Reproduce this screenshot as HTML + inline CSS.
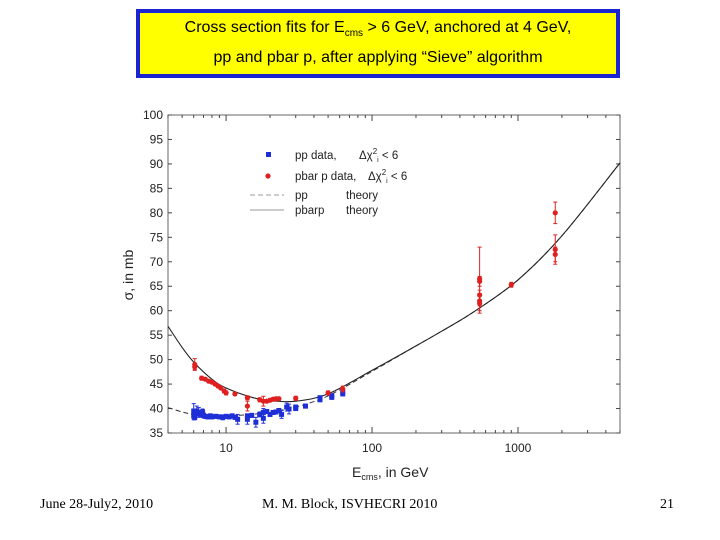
<!DOCTYPE html>
<html><head><meta charset="utf-8"><style>
body{margin:0;width:720px;height:540px;background:#fff;overflow:hidden;position:relative;font-family:"Liberation Sans",sans-serif}
#title{position:absolute;left:136px;top:9px;width:476px;height:61px;border:4px solid #1a24d0;background:#ffff00;text-align:center;font-size:16px;color:#000}
.foot{position:absolute;top:497px;font-family:"Liberation Serif",serif;font-size:14px;color:#000}
</style></head><body>
<div id="title">
<div style="margin-top:6px">Cross section fits for E<sub style="font-size:10px">cms</sub> &gt; 6 GeV, anchored at 4 GeV,</div>
<div style="margin-top:10px">pp and pbar p, after applying “Sieve” algorithm</div>
</div>
<svg id="chart" width="720" height="540" style="position:absolute;left:0;top:0"></svg>
<div class="foot" style="left:40px">June 28-July2, 2010</div>
<div class="foot" style="left:262px">M. M. Block, ISVHECRI 2010</div>
<div class="foot" style="left:660px">21</div>
<script>
const yTicks=[35,40,45,50,55,60,65,70,75,80,85,90,95,100];
const xTickLabels=[10,100,1000];
const theoryE=[4,5,6,8,10,15,20,30,50,100,200,300,500,1000,2000,5000];
const pbarTheory=[56.8,52.5,49.5,46,44.2,42.3,41.6,41.5,43,47.8,52.8,55.8,59.8,66.3,75.3,90.2];
const ppTheory=[40.2,39.3,38.8,38.5,38.5,38.8,39.3,40.3,42.6,47.6,52.8,55.8,59.8,66.3,75.3,90.2];
const pbarE=[6.1,6.1,6.8,7.2,7.6,8,8.4,8.8,9.2,9.7,10,11.5,14,14,17,18,19,20,21,22,23,30,50,63,546,546,546,546,546,900,1800,1800,1800];
const pbarS=[49,48.5,46.2,46,45.6,45.4,45,44.6,44.2,43.6,43.2,43,42.2,40.5,41.8,41.5,41.5,41.7,41.9,42,42,42.1,43.2,44,66.5,66,63.2,62,61.5,65.3,71.5,72.5,80];
const pbarErr=[1.2,0.5,0.4,0.3,0.3,0.3,0.3,0.3,0.3,0.4,0.4,0.3,0.4,1,0.4,1,0.3,0.3,0.3,0.3,0.3,0.4,0.4,0.6,6.5,1,1,1,2,0.5,1.5,3,2.2];
const ppE=[6,6,6.1,6.2,6.3,6.5,6.7,6.9,7,7.2,7.5,7.8,8,8.5,9,9.5,10,10.5,11,11.5,12,14,14,15,16,17,18,18,19,20,21,22,23,24,26,27,30,30,35,44,44,53,53,63,63];
const ppS=[39.5,38.5,38.2,39,39.5,39.2,38.8,39.3,38.6,38.4,38.3,38.5,38.3,38.4,38.3,38.2,38.4,38.3,38.5,38.2,37.8,37.8,38.5,38.6,37.2,38.8,38,39.2,39.4,38.8,39.2,39.3,39.6,38.8,40.3,39.9,40,40.3,40.5,42.2,41.8,42.3,42.6,43,43.5];
const ppErr=[1.5,0.8,0.5,0.8,1,1,0.5,0.6,0.5,0.4,0.4,0.4,0.4,0.4,0.4,0.5,0.4,0.4,0.4,0.4,1,1,0.4,0.4,1,0.5,1,0.8,0.4,0.4,0.4,0.4,0.4,0.8,0.8,1,0.4,0.4,0.4,0.4,0.4,0.4,0.4,0.4,0.6];
const L=168,R=620,T=115,B=433,xmin=4,xmax=5000,ymin=35,ymax=100;
const X=e=>L+(Math.log10(e)-Math.log10(xmin))/(Math.log10(xmax)-Math.log10(xmin))*(R-L);
const Y=v=>B-(v-ymin)/(ymax-ymin)*(B-T);
const svg=document.getElementById('chart');const NS='http://www.w3.org/2000/svg';
function mk(t,a,p){const e=document.createElementNS(NS,t);for(const k in a)e.setAttribute(k,a[k]);(p||svg).appendChild(e);return e;}
const frame=mk('rect',{x:L,y:T,width:R-L,height:B-T,fill:'none',stroke:'#666','stroke-width':1});


yTicks.forEach(v=>{
 const y=Y(v);
 mk('line',{x1:L,x2:L+4,y1:y,y2:y,stroke:'#444'});mk('line',{x1:R,x2:R-4,y1:y,y2:y,stroke:'#444'});
 const t=mk('text',{x:L-5,y:y+4,'text-anchor':'end','font-size':12,fill:'#222'});t.textContent=v;
 
 
});
for(let d=1;d<=1000;d*=10)for(let m=1;m<10;m++){const e=d*m;if(e<xmin||e>xmax)continue;const x=X(e);const len=m==1?6:3;
 mk('line',{x1:x,x2:x,y1:B,y2:B-len,stroke:'#444'});mk('line',{x1:x,x2:x,y1:T,y2:T+len,stroke:'#444'});}
xTickLabels.forEach(v=>{const t=mk('text',{x:X(v),y:B+19,'text-anchor':'middle','font-size':12,fill:'#222'});t.textContent=v;
 
 });
const yl=mk('text',{x:0,y:0,transform:'translate(133,275) rotate(-90)','text-anchor':'middle','font-size':14,fill:'#222'});yl.textContent='σ, in mb';


const xl=mk('text',{x:352,y:477,'font-size':14,fill:'#222'});xl.innerHTML='E<tspan font-size="9" dy="3">cms</tspan><tspan dy="-3">, in GeV</tspan>';


function path(arr){
 const p=theoryE.map((e,i)=>[X(e),Y(arr[i])]);
 let d='M'+p[0][0].toFixed(1)+','+p[0][1].toFixed(1);
 for(let i=0;i<p.length-1;i++){
  const p0=p[Math.max(0,i-1)],p1=p[i],p2=p[i+1],p3=p[Math.min(p.length-1,i+2)];
  const c1x=p1[0]+(p2[0]-p0[0])/6,c1y=p1[1]+(p2[1]-p0[1])/6;
  const c2x=p2[0]-(p3[0]-p1[0])/6,c2y=p2[1]-(p3[1]-p1[1])/6;
  d+='C'+c1x.toFixed(1)+','+c1y.toFixed(1)+' '+c2x.toFixed(1)+','+c2y.toFixed(1)+' '+p2[0].toFixed(1)+','+p2[1].toFixed(1);
 }
 return d;}
const c1=mk('path',{d:path(ppTheory),fill:'none',stroke:'#333','stroke-width':1,'stroke-dasharray':'5,3'});


const c2=mk('path',{d:path(pbarTheory),fill:'none',stroke:'#222','stroke-width':1.1});


function pts(E,S,Er,col,name,circle){E.forEach((e,i)=>{const x=X(e),y=Y(S[i]);
 const g=mk('g',{});
 
 
 mk('line',{x1:x,x2:x,y1:Y(S[i]+Er[i]),y2:Y(S[i]-Er[i]),stroke:col},g);
 mk('line',{x1:x-2,x2:x+2,y1:Y(S[i]+Er[i]),y2:Y(S[i]+Er[i]),stroke:col},g);
 mk('line',{x1:x-2,x2:x+2,y1:Y(S[i]-Er[i]),y2:Y(S[i]-Er[i]),stroke:col},g);
 if(circle)mk('circle',{cx:x,cy:y,r:2.6,fill:col},g);else mk('rect',{x:x-2.5,y:y-2.5,width:5,height:5,fill:col},g);});}
pts(ppE,ppS,ppErr,'#1f2fd6','pp-data-point',false);
pts(pbarE,pbarS,pbarErr,'#e02020','pbar-data-point',true);
const lg=mk('g',{});
mk('rect',{x:266,y:152,width:5,height:5,fill:'#1f2fd6'},lg);
mk('circle',{cx:268,cy:176,r:2.6,fill:'#e02020'},lg);
mk('line',{x1:250,x2:284,y1:195,y2:195,stroke:'#999','stroke-dasharray':'5,3'},lg);
mk('line',{x1:250,x2:284,y1:210,y2:210,stroke:'#999'},lg);
[['pp data,',295,159],['pbar p data,',295,180],['pp',295,199],['pbarp',295,214],['theory',346,199],['theory',346,214]].forEach(a=>{const t=mk('text',{x:a[1],y:a[2],'font-size':11.5,fill:'#222'},lg);t.textContent=a[0];});
[[359,159],[368,180]].forEach(a=>{const t=mk('text',{x:a[0],y:a[1],'font-size':11.5,fill:'#222'},lg);t.innerHTML='Δχ<tspan dy="-5" font-size="8">2</tspan><tspan dy="8" font-size="7">i</tspan><tspan dy="-3"> &lt; 6</tspan>';});
</script>
</body></html>
